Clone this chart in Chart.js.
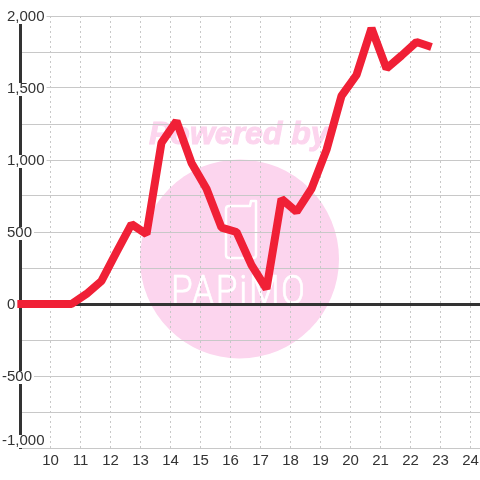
<!DOCTYPE html>
<html>
<head>
<meta charset="utf-8">
<style>
  body { margin: 0; background: #fff; }
  canvas { display: block; }
</style>
</head>
<body>
<canvas id="lineChart" width="480" height="480"></canvas>
<script src="https://cdn.jsdelivr.net/npm/chart.js@4"></script>
<script>
const hours = [8.7, 9.2, 9.7, 10.2, 10.7, 11.2, 11.7, 12.2, 12.7, 13.2, 13.7, 14.2, 14.7, 15.2, 15.7, 16.2, 16.7, 17.2, 17.7, 18.2, 18.7, 19.2, 19.7, 20.2, 20.7, 21.2, 21.7, 22.2, 22.7];
const values = [0, 0, 0, 0, 0, 70, 160, 360, 555, 485, 1120, 1270, 980, 800, 530, 500, 270, 105, 730, 640, 800, 1070, 1445, 1590, 1915, 1635, 1725, 1820, 1785];
const xTicks = [10, 11, 12, 13, 14, 15, 16, 17, 18, 19, 20, 21, 22, 23, 24];
const yTicks = [-1000, -750, -500, -250, 0, 250, 500, 750, 1000, 1250, 1500, 1750, 2000];
const yTickLabels = ["-1,000", "", "-500", "", "0", "", "500", "", "1,000", "", "1,500", "", "2,000"];

const gridColor = "#c8c8c8";
const axisColor = "#333333";
const pink = "#fcd5ee";
const tickFont = { family: "'Liberation Sans', Arial, sans-serif", size: 15 };

// pink logo behind the grid
function drawWatermark(ctx) {
  ctx.save();
  ctx.fillStyle = pink;
  ctx.beginPath();
  ctx.arc(239.5, 259, 99.5, 0, Math.PI * 2);
  ctx.fill();

  ctx.font = "italic bold 32px 'Liberation Sans', Arial, sans-serif";
  ctx.textBaseline = "alphabetic";
  ctx.strokeStyle = pink;
  ctx.lineWidth = 1;
  ctx.fillText("Powered by", 149, 144);
  ctx.strokeText("Powered by", 149, 144);

  // phone icon
  ctx.strokeStyle = "#ffffff";
  ctx.lineWidth = 2.5;
  ctx.lineJoin = "round";
  ctx.beginPath();
  ctx.moveTo(229, 206);
  ctx.lineTo(250, 206);
  ctx.lineTo(251, 201);
  ctx.lineTo(256, 201);
  ctx.lineTo(256, 255);
  ctx.quadraticCurveTo(256, 258, 253, 258);
  ctx.lineTo(229, 258);
  ctx.quadraticCurveTo(226, 258, 226, 255);
  ctx.lineTo(226, 209);
  ctx.quadraticCurveTo(226, 206, 229, 206);
  ctx.stroke();

  // logo name
  ctx.fillStyle = "#ffffff";
  ctx.font = "300 41px Roboto, sans-serif";
  ctx.translate(171, 304);
  ctx.scale(0.86, 1);
  ctx.letterSpacing = "2px";
  ctx.lineWidth = 0.7;
  ctx.fillText("PAPiMO", 0, 0);
  ctx.strokeText("PAPiMO", 0, 0);
  ctx.restore();
}

// the y labels sit over the axis line, negative ones hang further left
function placeYLabels(chart) {
  const ctx = chart.ctx;
  const scale = chart.scales.y;
  ctx.save();
  ctx.font = "15px 'Liberation Sans', Arial, sans-serif";
  scale.getLabelItems(chart.chartArea).forEach((item, i) => {
    const opts = item.options;
    const text = yTickLabels[i];
    if (text === "") {
      opts.backdrop.width = 0;
      return;
    }
    opts.translation[0] = text.startsWith("-") ? 2 : 7;
    opts.translation[1] = text === "-1,000" ? 441 : scale.getPixelForValue(yTicks[i]) + 1;
    opts.textAlign = "left";
    // backdrop is relative to the translated label
    opts.backdrop.left = 0;
    opts.backdrop.width = ctx.measureText(text).width + 2;
    opts.backdrop.top = -6;
    opts.backdrop.height = 13;
  });
  ctx.restore();
}

const backgroundPlugin = {
  id: "background",
  beforeDraw(chart) {
    drawWatermark(chart.ctx);
    placeYLabels(chart);
  },
};

new Chart(document.getElementById("lineChart"), {
  type: "line",
  data: {
    labels: hours,
    datasets: [
      {
        data: hours.map((h, i) => ({ x: h, y: values[i] })),
        borderColor: "#f02036",
        borderWidth: 8,
        borderJoinStyle: "bevel",
        pointRadius: 0,
        tension: 0,
        clip: false,
      },
    ],
  },
  options: {
    responsive: false,
    animation: false,
    layout: {
      autoPadding: false,
      padding: { left: 7, top: 16, right: 0, bottom: 0 },
    },
    plugins: {
      legend: { display: false },
      tooltip: { enabled: false },
    },
    scales: {
      x: {
        type: "linear",
        min: 10 - 30.5 / 30,
        max: 24 + 9.5 / 30,
        afterBuildTicks: (scale) => {
          scale.ticks = xTicks.map((v) => ({ value: v }));
        },
        afterFit: (scale) => {
          scale.height = 32;
          scale.paddingLeft = 0;
          scale.paddingRight = 0;
        },
        grid: { color: gridColor, lineWidth: 1, drawTicks: false },
        border: { display: false, dash: [2, 3] },
        ticks: {
          color: axisColor,
          font: tickFont,
          padding: 4,
          maxRotation: 0,
          autoSkip: false,
          callback: (value) => String(value),
        },
      },
      y: {
        min: -1000,
        max: 2000,
        afterBuildTicks: (scale) => {
          scale.ticks = yTicks.map((v) => ({ value: v }));
        },
        afterFit: (scale) => {
          scale.width = 13;
        },
        grid: {
          color: (c) => (c.tick && c.tick.value === 0 ? axisColor : gridColor),
          lineWidth: (c) => (c.tick && c.tick.value === 0 ? 3 : 1),
          drawTicks: false,
        },
        border: { color: axisColor, width: 3 },
        ticks: {
          color: axisColor,
          font: tickFont,
          mirror: true, // mirrored labels are not clipped to the narrow axis box
          autoSkip: false,
          z: 1,
          showLabelBackdrop: true,
          backdropColor: "#ffffff",
          backdropPadding: 0,
          callback: (value, index) => yTickLabels[index],
        },
      },
    },
  },
  plugins: [backgroundPlugin],
});
</script>
</body>
</html>
